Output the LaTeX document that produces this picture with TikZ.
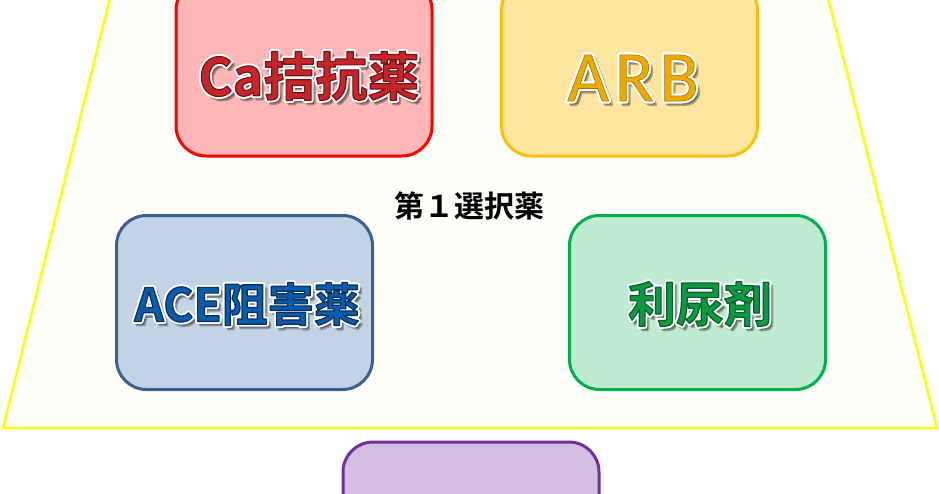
\documentclass[tikz,border=0pt]{standalone}
\usepackage{fontspec}
\newfontfamily\jpbold{Noto Sans CJK JP Bold}
\newfontfamily\arbfont[LetterSpace=8]{Carlito}
\definecolor{trapfill}{HTML}{FFFFFA}
\definecolor{trapline}{HTML}{FFFF00}
\definecolor{cafill}{HTML}{FFB6B6}
\definecolor{caline}{HTML}{FF0000}
\definecolor{catext}{HTML}{C4262B}
\definecolor{arbfill}{HTML}{FFE6A0}
\definecolor{arbline}{HTML}{FFC000}
\definecolor{arbtext}{HTML}{EBAA00}
\definecolor{acefill}{HTML}{C2D3E6}
\definecolor{aceline}{HTML}{3B5F8E}
\definecolor{acetext}{HTML}{0B5CA8}
\definecolor{difill}{HTML}{BFEBD0}
\definecolor{diline}{HTML}{00B050}
\definecolor{ditext}{HTML}{0B9A42}
\definecolor{pufill}{HTML}{D3BFE1}
\definecolor{puline}{HTML}{7030A0}
\tikzset{
  drugbox/.style={draw, line width=3pt, rounded corners=30pt, minimum width=256pt, inner sep=0pt},
  fxtext/.style={inner sep=0pt, anchor=center},
}
% stroke settings for text (render mode 2 = fill + stroke)
\newcommand\strk[2]{\special{pdf:literal direct #1 RG #2 w 1 j 2 Tr}}
\newcommand\strkoff{\special{pdf:literal direct 0 Tr}}
% #1 name, #2 position, #3 main colour, #4 edge stroke colour (pdf rgb), #5 edge width, #6 text
\newcommand\glowlabel[6]{%
  \node[fxtext, text=black, opacity=0.3] at ([shift={(3,3.5)}]#2) {\strk{0 0 0}{3}#6\strkoff};
  \node[fxtext, text=white] at (#2) {\strk{1 1 1}{5}#6\strkoff};
  \node[fxtext, text=#3] (#1) at (#2) {\strk{#4}{#5}#6\strkoff};
}
\begin{document}
\begin{tikzpicture}[x=1pt, y=-1pt]
\useasboundingbox (0,0) rectangle (939,493);
\fill[white] (0,0) rectangle (939,493);
% trapezoid
\coordinate (tl) at (110,-2);
\coordinate (tr) at (828,-2);
\coordinate (br) at (937,428);
\coordinate (bl) at (3,428);
\draw[trapline, fill=trapfill, line width=2.5pt] (tl) -- (tr) -- (br) -- (bl) -- cycle;
% boxes
\node[drugbox, draw=caline, fill=cafill, minimum height=176pt] (ca) at (304,68) {};
\node[drugbox, draw=arbline, fill=arbfill, minimum height=176pt] (arb) at (629.5,68) {};
\node[drugbox, draw=aceline, fill=acefill, minimum height=174pt] (ace) at (244.5,302.5) {};
\node[drugbox, draw=diline, fill=difill, minimum height=174pt] (di) at (697.5,302.5) {};
\node[drugbox, draw=puline, fill=pufill, minimum height=174pt] (pu) at (471,529) {};
% labels
\coordinate (caL) at (309,76);
\coordinate (arbL) at (633,78);
\coordinate (aceL) at (247,304);
\coordinate (diL) at (700,304);
\glowlabel{catxt}{caL}{catext}{0.5 0.06 0.07}{1.2}{\jpbold\fontsize{52}{56}\selectfont Ca拮抗薬}
\glowlabel{arbtxt}{arbL}{arbtext}{0.66 0.45 0}{0.6}{\arbfont\fontsize{72}{76}\selectfont ARB}
\glowlabel{acetxt}{aceL}{acetext}{0.02 0.18 0.37}{1.2}{\jpbold\fontsize{46}{50}\selectfont ACE阻害薬}
\glowlabel{ditxt}{diL}{ditext}{0.02 0.38 0.16}{1.2}{\jpbold\fontsize{48}{52}\selectfont 利尿剤}
\node[inner sep=0pt] (first) at (469,206) {\jpbold\fontsize{30}{33}\selectfont 第１選択薬};
\end{tikzpicture}
\end{document}
